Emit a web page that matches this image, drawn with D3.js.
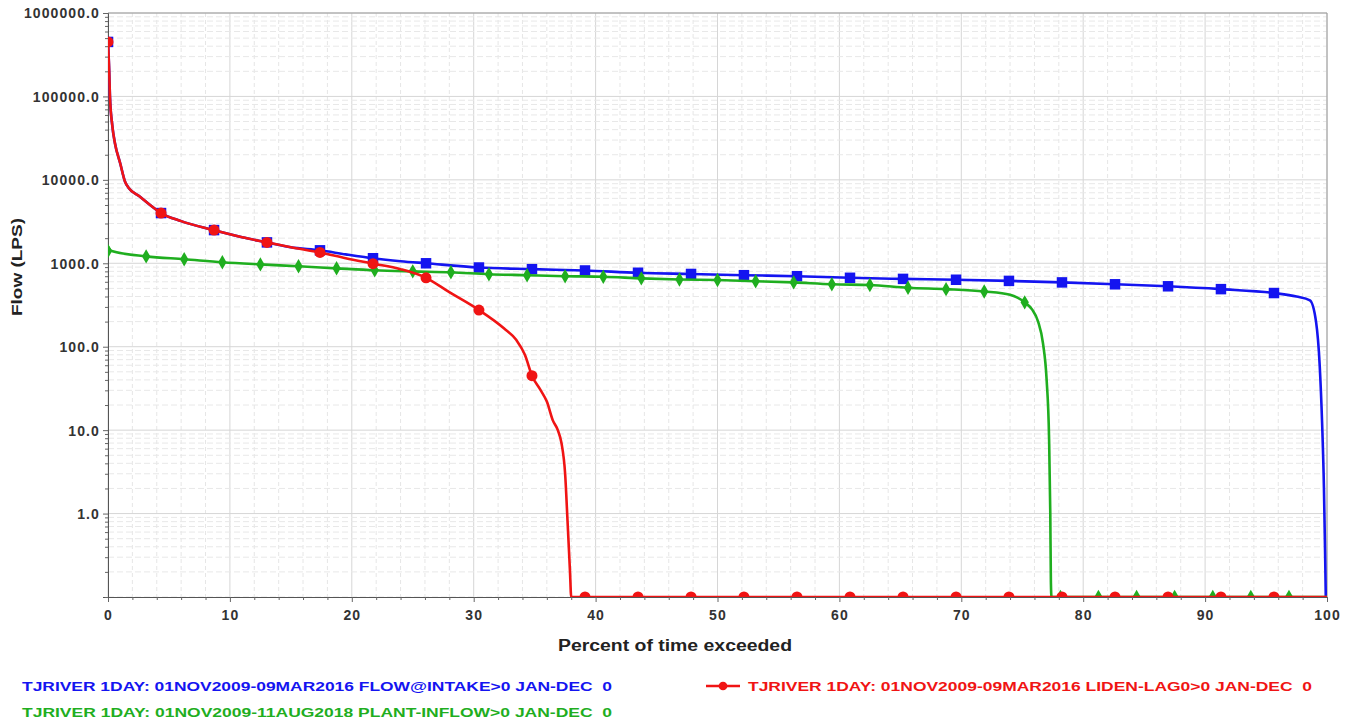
<!DOCTYPE html>
<html><head><meta charset="utf-8">
<script src="https://cdn.jsdelivr.net/npm/d3@7"></script>
<style>
html,body{margin:0;padding:0;background:#fff;}
svg{display:block;font-family:"Liberation Sans",Arial,sans-serif;}
</style></head>
<body><svg id="chart" width="1350" height="722"></svg>
<script>
// ---------- data (percent of time exceeded, flow in LPS; 0 = no flow) ----------
const xTicks = [0,10,20,30,40,50,60,70,80,90,100];
const yTicks = [1,10,100,1000,10000,100000,1000000];

const blueName  = "TJRIVER 1DAY: 01NOV2009-09MAR2016 FLOW@INTAKE>0 JAN-DEC  0";
const greenName = "TJRIVER 1DAY: 01NOV2009-11AUG2018 PLANT-INFLOW>0 JAN-DEC  0";
const redName   = "TJRIVER 1DAY: 01NOV2009-09MAR2016 LIDEN-LAG0>0 JAN-DEC  0";

const bluePct  = [0,0.1,0.16,0.35,0.57,1,1.4,1.7,2.6,3.3,4.35,6,8.7,11,13.04,15,17.39,19.5,21.74,24,26.09,30.43,34.78,39.13,43.48,47.83,52.17,56.52,60.87,65.22,69.57,73.91,78.26,82.61,86.96,91.3,95.65,97.5,98.6,99.1,99.4,99.6,99.75,99.85,99.9];
const blueFlow = [450000,200000,100000,45000,27500,15800,9500,8000,6300,5200,4000,3200,2500,2050,1780,1560,1430,1280,1150,1060,1000,890,850,820,770,745,720,700,670,650,635,615,590,560,530,490,440,400,360,200,60,12,2,0.3,0];

const blueMarkPct  = [0,4.35,8.7,13.04,17.39,21.74,26.09,30.43,34.78,39.13,43.48,47.83,52.17,56.52,60.87,65.22,69.57,73.91,78.26,82.61,86.96,91.3,95.65];
const blueMarkFlow = [450000,4000,2500,1780,1430,1150,1000,890,850,820,770,745,720,700,670,650,635,615,590,560,530,490,440];

const redPct  = [0,0.1,0.16,0.35,0.57,1,1.4,1.7,2.6,3.3,4.35,6,8.7,11,13.04,15,17.39,19.5,21.74,24,26.09,28,30.43,32.5,33.5,34.2,34.78,35.5,36,36.5,36.9,37.2,37.5,37.7,37.9,38,100];
const redFlow = [450000,200000,100000,45000,27500,15800,9500,8000,6300,5200,4000,3200,2500,2050,1780,1560,1350,1150,990,850,670,450,275,165,120,80,45,30,22,13,10,7,3,0.8,0.2,0,0];

const redMarkPct  = [0,4.35,8.7,13.04,17.39,21.74,26.09,30.43,34.78,39.13,43.48,47.83,52.17,56.52,60.87,65.22,69.57,73.91,78.26,82.61,86.96,91.3,95.65];
const redMarkFlow = [450000,4000,2500,1780,1350,990,670,275,45,0,0,0,0,0,0,0,0,0,0,0,0,0,0];

const greenPct  = [0,0.3,3.13,6.25,9.38,12.5,15.63,18.75,21.88,25,28.13,31.25,34.38,37.5,40.63,43.75,46.88,50,53.13,56.25,59.38,62.5,65.63,68.75,71.88,74,75.2,75.8,76.3,76.7,77,77.2,77.3,77.35,77.4,100];
const greenFlow = [1600,1400,1210,1120,1030,970,920,870,825,800,780,740,720,700,690,660,640,630,610,590,560,550,510,490,460,420,340,280,200,110,40,8,1,0.15,0,0];

const greenMarkPct  = [0,3.13,6.25,9.38,12.5,15.63,18.75,21.88,25,28.13,31.25,34.38,37.5,40.63,43.75,46.88,50,53.13,56.25,59.38,62.5,65.63,68.75,71.88,75.2,78.13,81.25,84.38,87.5,90.63,93.75,96.88];
const greenMarkFlow = [1400,1210,1120,1030,970,920,870,825,800,780,740,720,700,690,660,640,630,610,590,560,550,510,490,460,340,0,0,0,0,0,0,0];

// ---------- layout ----------
const svg = d3.select("#chart");
const L = 108, R = 1327, T = 13, B = 597;
const yMin = 0.1, yMax = 1000000;
const x = d3.scaleLinear().domain([0,100]).range([L,R]);
const y = d3.scaleLog().domain([yMin,yMax]).range([B,T]);
const yv = v => y(Math.max(v, yMin));

const colBlue = "#1414f0", colRed = "#f01414", colGreen = "#1fae1f";

// clip
svg.append("defs").append("clipPath").attr("id","plotclip")
  .append("rect").attr("x",L).attr("y",T).attr("width",R-L).attr("height",B-T);

// grid
const grid = svg.append("g");
const xMinor = d3.range(0,101,2);
grid.selectAll("line.vx").data(xMinor).join("line")
  .attr("x1",d=>x(d)).attr("x2",d=>x(d)).attr("y1",T).attr("y2",B)
  .attr("stroke", d => d%10===0 ? "#d6d6d6" : "#e6e6e6")
  .attr("stroke-width",1).attr("stroke-dasharray", d => d%10===0 ? null : "4,3");
const yMinor = [];
for (let e=-1;e<6;e++){ for(let m=1;m<10;m++){ yMinor.push(m*Math.pow(10,e)); } }
yMinor.push(1000000);
grid.selectAll("line.hy").data(yMinor).join("line")
  .attr("x1",L).attr("x2",R).attr("y1",d=>y(d)).attr("y2",d=>y(d))
  .attr("stroke", d => yTicks.includes(d) ? "#d6d6d6" : "#e8e8e8")
  .attr("stroke-width",1).attr("stroke-dasharray", d => yTicks.includes(d) ? null : "6,3");

// frame top/right
svg.append("line").attr("x1",L).attr("x2",R).attr("y1",T).attr("y2",T).attr("stroke","#9a9a9a");
svg.append("line").attr("x1",R).attr("x2",R).attr("y1",T).attr("y2",B).attr("stroke","#9a9a9a");

// axes
svg.append("g").attr("transform",`translate(0,${B})`)
  .call(d3.axisBottom(x).tickValues(xTicks).tickFormat(d3.format("d")).tickSize(5).tickPadding(8));
svg.append("g").attr("transform",`translate(0,${B})`)
  .call(d3.axisBottom(x).tickValues(xMinor.filter(d=>d%10!==0)).tickFormat("").tickSize(3))
  .call(g=>g.select(".domain").remove());
const yAxis = svg.append("g").attr("transform",`translate(${L},0)`)
  .call(d3.axisLeft(y).tickValues(yTicks).tickFormat(d=>d.toFixed(1)).tickSize(5).tickPadding(3));
svg.append("g").attr("transform",`translate(${L},0)`)
  .call(d3.axisLeft(y).tickValues(yMinor.filter(d=>!yTicks.includes(d))).tickFormat("").tickSize(3))
  .call(g=>g.select(".domain").remove());
svg.selectAll(".domain").attr("stroke","#555");
svg.selectAll(".tick line").attr("stroke","#666");
svg.selectAll(".tick text").attr("font-size",14).attr("font-weight","bold")
  .attr("fill","#333").attr("letter-spacing","1.1px");
yAxis.selectAll(".tick text").attr("dy","0.35em");

// series
const line = d3.line().x(d=>x(d[0])).y(d=>yv(d[1])).curve(d3.curveMonotoneX);
const plot = svg.append("g").attr("clip-path","url(#plotclip)");
function drawSeries(pct, flow, mp, mf, col, shape, size){
  plot.append("path").datum(d3.zip(pct,flow)).attr("d",line)
    .attr("fill","none").attr("stroke",col).attr("stroke-width",2.6).attr("stroke-linejoin","round");
  plot.append("g").selectAll("path").data(d3.zip(mp,mf)).join("path")
    .attr("transform",d=>`translate(${x(d[0])},${yv(d[1])})`)
    .attr("d", d3.symbol().type(shape).size(size)).attr("fill",col);
}
drawSeries(bluePct, blueFlow, blueMarkPct, blueMarkFlow, colBlue, d3.symbolSquare, 110);
drawSeries(greenPct, greenFlow, greenMarkPct, greenMarkFlow, colGreen, d3.symbolDiamond, 60);
drawSeries(redPct, redFlow, redMarkPct, redMarkFlow, colRed, d3.symbolCircle, 95);

// axis titles
svg.append("text").attr("x",675).attr("y",651).attr("text-anchor","middle")
  .attr("font-size",16).attr("font-weight","bold").attr("fill","#222")
  .attr("textLength",234).attr("lengthAdjust","spacingAndGlyphs").text("Percent of time exceeded");
svg.append("text").attr("transform","translate(22,267) rotate(-90)").attr("text-anchor","middle")
  .attr("font-size",15).attr("font-weight","bold").attr("fill","#222")
  .attr("textLength",98).attr("lengthAdjust","spacingAndGlyphs")
  .text("Flow (LPS)");

// legend
svg.append("text").attr("x",22).attr("y",691).attr("font-size",13).attr("font-weight","bold")
  .attr("fill",colBlue).attr("textLength",590).attr("lengthAdjust","spacingAndGlyphs").attr("xml:space","preserve").text(blueName);
svg.append("text").attr("x",22).attr("y",717).attr("font-size",13).attr("font-weight","bold")
  .attr("fill",colGreen).attr("textLength",590).attr("lengthAdjust","spacingAndGlyphs").attr("xml:space","preserve").text(greenName);
svg.append("line").attr("x1",706).attr("x2",740).attr("y1",686).attr("y2",686).attr("stroke",colRed).attr("stroke-width",2.6);
svg.append("path").attr("transform","translate(723,686)").attr("d",d3.symbol().type(d3.symbolCircle).size(60)).attr("fill",colRed);
svg.append("text").attr("x",748).attr("y",691).attr("font-size",13).attr("font-weight","bold")
  .attr("fill",colRed).attr("textLength",564).attr("lengthAdjust","spacingAndGlyphs").attr("xml:space","preserve").text(redName);
</script></body></html>
